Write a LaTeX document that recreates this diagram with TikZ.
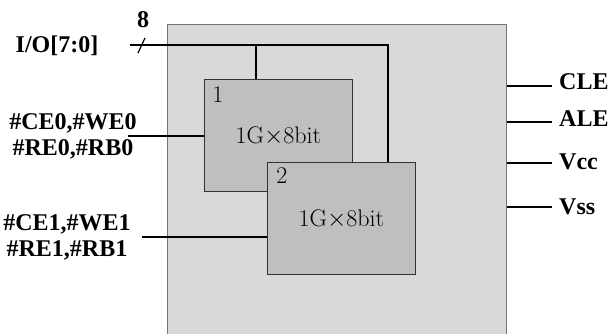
\documentclass[tikz,border=0pt]{standalone}
\usepackage{fontspec}
\newfontfamily\pinfont{Liberation Serif}
\begin{document}
\begin{tikzpicture}[x=1pt,y=-1pt,
        pin/.style={font=\pinfont\bfseries\fontsize{24}{26}\selectfont, align=center},
        die/.style={draw=black!80, fill=black!25, line width=0.9pt, anchor=north west,
                    minimum width=148pt, minimum height=112pt, inner sep=0pt},
        dietext/.style={font=\fontsize{24}{26}\selectfont},
        wire/.style={line width=1.4pt},
        thickwire/.style={line width=2.4pt}]
        \clip (0,0) rectangle (611,334);

        % package
        \node[draw=black!55, fill=black!15, line width=1pt, anchor=north west,
              minimum width=339pt, minimum height=330pt, inner sep=0pt] (chip) at (167,24) {};

        % the two dies
        \node[die] (die1) at (204,79) {};
        \node[die] (die2) at (267,162) {};
        \node[dietext] (cap1) at ([yshift=-1pt]die1.center) {1G$\times$8bit};
        \node[dietext] (cap2) at ([yshift=-1pt]die2.center) {1G$\times$8bit};
        \node[dietext, inner sep=0pt] (num1) at (218,95) {1};
        \node[dietext, inner sep=0pt] (num2) at (282,176) {2};

        % data bus
        \node[pin] (io) at (57,46) {I/O[7:0]};
        \node[pin] (width) at (143,20) {8};
        \coordinate (busin) at (130,45);
        \coordinate (tapA) at (256,45);
        \coordinate (tapB) at (388,45);
        \draw[wire] (busin) -- (tapB) -- (tapB |- die2.north);
        \draw[wire] (tapA) -- (tapA |- die1.north);
        \draw[line width=1.2pt] (138,53) -- (145,38);

        % control lines
        \node[pin] (ctl0) at (73,136) {\#CE0,\#WE0\\\#RE0,\#RB0};
        \node[pin] (ctl1) at (67,237) {\#CE1,\#WE1\\\#RE1,\#RB1};
        \coordinate (ce0) at (128,136);
        \coordinate (ce1) at (142,237);
        \draw[wire] (ce0) -- (ce0 -| die1.west);
        \draw[wire] (ce1) -- (ce1 -| die2.west);

        % right side pins
        \node[pin, anchor=west, inner sep=0pt] (cle) at (559,82) {CLE};
        \node[pin, anchor=west, inner sep=0pt] (ale) at (559,119) {ALE};
        \node[pin, anchor=west, inner sep=0pt] (vcc) at (559,162) {Vcc};
        \node[pin, anchor=west, inner sep=0pt] (vss) at (559,207) {Vss};
        \coordinate (cleE) at (552,86);
        \coordinate (aleE) at (552,122);
        \coordinate (vccE) at (552,163);
        \coordinate (vssE) at (552,207);
        \draw[thickwire] (cleE -| chip.east) -- (cleE);
        \draw[thickwire] (aleE -| chip.east) -- (aleE);
        \draw[thickwire] (vccE -| chip.east) -- (vccE);
        \draw[wire] (vssE -| chip.east) -- (vssE);
    \end{tikzpicture}
\end{document}
